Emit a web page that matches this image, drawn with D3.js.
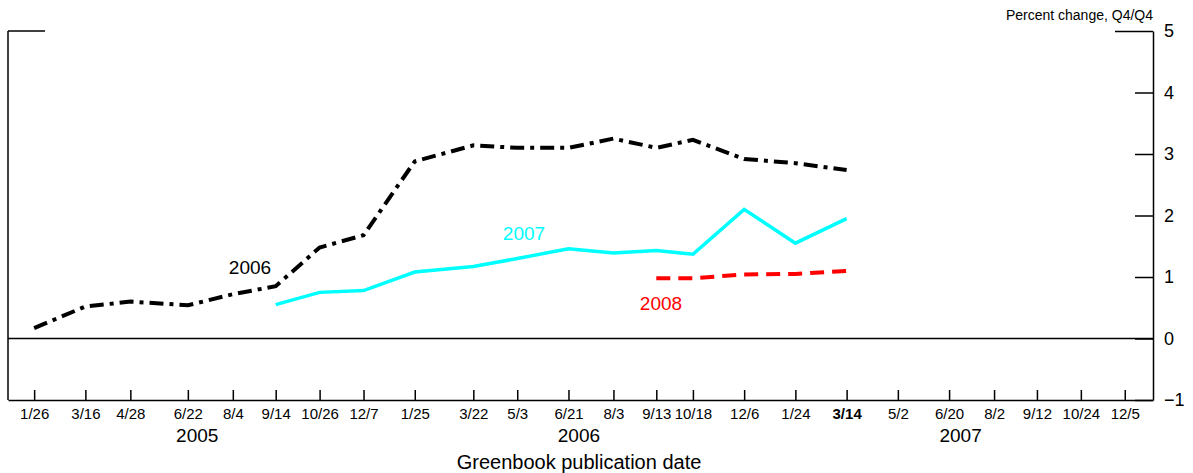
<!DOCTYPE html>
<html><head><meta charset="utf-8">
<script src="https://cdn.jsdelivr.net/npm/d3@7"></script>
<style>body{margin:0;background:#fff}text{font-family:Arial,"Liberation Sans",sans-serif}</style>
</head><body><svg id="c" width="1193" height="473"></svg>
<script>
(function () {
  var dates = ["2005-01-26","2005-03-16","2005-04-28","2005-06-22","2005-08-04","2005-09-14","2005-10-26","2005-12-07",
    "2006-01-25","2006-03-22","2006-05-03","2006-06-21","2006-08-03","2006-09-13","2006-10-18","2006-12-06",
    "2007-01-24","2007-03-14","2007-05-02","2007-06-20","2007-08-02","2007-09-12","2007-10-24","2007-12-05"];
  var tickLabels = ["1/26","3/16","4/28","6/22","8/4","9/14","10/26","12/7","1/25","3/22","5/3","6/21","8/3","9/13","10/18","12/6","1/24","3/14","5/2","6/20","8/2","9/12","10/24","12/5"];
  var years = [["2005","2005-07-01"],["2006","2006-07-01"],["2007","2007-07-01"]];
  var yTicks = [5,4,3,2,1,0,-1];

  var s2006 = [0.17,0.52,0.60,0.54,0.72,0.85,1.48,1.68,2.88,3.14,3.10,3.10,3.25,3.10,3.23,2.92,2.85,2.74];
  var s2007 = [0.55,0.75,0.78,1.08,1.17,1.30,1.46,1.39,1.43,1.37,2.10,1.55,1.95];  // from 9/14/05
  var s2008 = [0.98,0.98,1.04,1.05,1.10];  // from 9/13/06

  var parse = d3.timeParse("%Y-%m-%d");
  var svg = d3.select("#c");
  var x = d3.scaleTime().domain([parse("2005-01-01"), parse("2008-01-01")]).range([8, 1153]);
  var y = d3.scaleLinear().domain([-1, 5]).range([400, 31]);

  var pts = function (vals, start) {
    return vals.map(function (v, i) { return [parse(dates[start + i]), v]; });
  };
  var line = d3.line().x(function (d) { return x(d[0]); }).y(function (d) { return y(d[1]); });

  // frame
  svg.append("line").attr("x1", 8).attr("x2", 8).attr("y1", 31).attr("y2", 400).attr("stroke", "#000").attr("stroke-width", 1.5);
  svg.append("line").attr("x1", 8).attr("x2", 45).attr("y1", 31).attr("y2", 31).attr("stroke", "#000").attr("stroke-width", 1.5);
  svg.append("line").attr("x1", 8).attr("x2", 1153).attr("y1", y(0)).attr("y2", y(0)).attr("stroke", "#000").attr("stroke-width", 1.5);

  var ra = svg.append("g").attr("transform", "translate(1153,0)")
    .call(d3.axisRight(y).tickValues(yTicks).tickSize(0).tickPadding(11).tickFormat(d3.format("d")));
  ra.select(".domain").attr("stroke-width", 1.5);
  ra.selectAll("text").attr("font-size", 18).attr("fill", "#000");
  ra.selectAll(".tick").append("line").attr("x1", function (d) { return d === 5 ? -38 : -18; }).attr("x2", 0)
    .attr("stroke", "#000").attr("stroke-width", 1.5);

  var xa = svg.append("g").attr("transform", "translate(0,400)")
    .call(d3.axisBottom(x).tickValues(dates.map(parse)).tickSizeInner(-10).tickSizeOuter(0).tickPadding(8)
      .tickFormat(function (d, i) { return tickLabels[i]; }));
  xa.select(".domain").attr("stroke-width", 1.5);
  xa.selectAll(".tick line").attr("stroke-width", 1.5);
  xa.selectAll("text").attr("font-size", 15).attr("fill", "#000")
    .attr("font-weight", function (d, i) { return i === 17 ? "bold" : null; });

  svg.selectAll(".yr").data(years).enter().append("text")
    .attr("x", function (d) { return x(parse(d[1])); }).attr("y", 442).attr("text-anchor", "middle")
    .attr("font-size", 19).text(function (d) { return d[0]; });
  svg.append("text").attr("x", 579).attr("y", 469).attr("text-anchor", "middle").attr("font-size", 20).text("Greenbook publication date");
  svg.append("text").attr("x", 1153).attr("y", 20).attr("text-anchor", "end").attr("font-size", 14).text("Percent change, Q4/Q4");

  svg.append("path").datum(pts(s2006, 0)).attr("d", line).attr("fill", "none").attr("stroke", "#000")
    .attr("stroke-width", 4).attr("stroke-dasharray", "14,6,4,6");
  svg.append("path").datum(pts(s2007, 5)).attr("d", line).attr("fill", "none").attr("stroke", "#00ffff").attr("stroke-width", 3.5);
  svg.append("path").datum(pts(s2008, 13)).attr("d", line).attr("fill", "none").attr("stroke", "#ff0000")
    .attr("stroke-width", 4).attr("stroke-dasharray", "14,8");

  svg.append("text").attr("x", 250).attr("y", 274).attr("text-anchor", "middle").attr("font-size", 19).text("2006");
  svg.append("text").attr("x", 524).attr("y", 240).attr("text-anchor", "middle").attr("font-size", 19).attr("fill", "#00ffff").text("2007");
  svg.append("text").attr("x", 661).attr("y", 310).attr("text-anchor", "middle").attr("font-size", 19).attr("fill", "#ff0000").text("2008");
})();
</script></body></html>
